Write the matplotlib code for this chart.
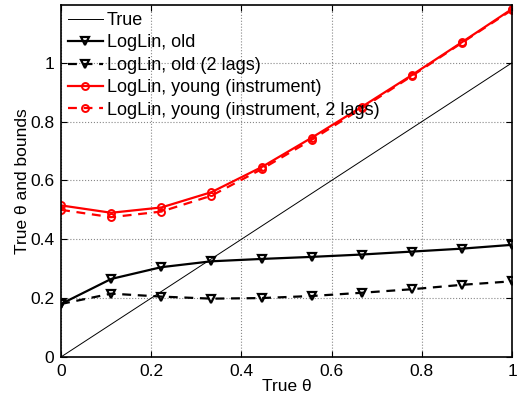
import matplotlib
matplotlib.use('Agg')
import matplotlib.pyplot as plt

plt.rcParams['font.family'] = ['Liberation Sans', 'DejaVu Sans']
plt.rcParams['font.size'] = 12.5

theta = [0, 1/9, 2/9, 3/9, 4/9, 5/9, 6/9, 7/9, 8/9, 1]
old = [0.180, 0.265, 0.305, 0.325, 0.333, 0.340, 0.348, 0.358, 0.368, 0.381]
old_2lags = [0.180, 0.215, 0.205, 0.198, 0.200, 0.207, 0.218, 0.230, 0.245, 0.257]
young = [0.515, 0.490, 0.508, 0.560, 0.645, 0.745, 0.850, 0.958, 1.070, 1.183]
young_2lags = [0.500, 0.475, 0.494, 0.548, 0.638, 0.738, 0.845, 0.955, 1.068, 1.180]

fig = plt.figure(figsize=(5.22, 4.01), dpi=100)
ax = fig.add_axes([0.117, 0.110, 0.864, 0.878])

ax.plot([0, 1], [0, 1], color='black', lw=0.7, label='True')
ax.plot(theta, old, color='black', lw=1.6, marker='v', ms=6, mfc='none', mew=1.6,
        label='LogLin, old')
ax.plot(theta, old_2lags, color='black', lw=1.6, ls='--', dashes=(4, 3), marker='v', ms=6,
        mfc='none', mew=1.6, label='LogLin, old (2 lags)')
ax.plot(theta, young, color='red', lw=1.6, marker='o', ms=5, mfc='none', mew=1.4,
        label='LogLin, young (instrument)')
ax.plot(theta, young_2lags, color='red', lw=1.6, ls='--', dashes=(4, 3), marker='o', ms=5,
        mfc='none', mew=1.4, label='LogLin, young (instrument, 2 lags)')

ax.set_xlim(0, 1)
ax.set_ylim(0, 1.197)
ax.set_xticks([0, 0.2, 0.4, 0.6, 0.8, 1])
ax.set_xticklabels(['0', '0.2', '0.4', '0.6', '0.8', '1'])
ax.set_yticks([0, 0.2, 0.4, 0.6, 0.8, 1])
ax.set_yticklabels(['0', '0.2', '0.4', '0.6', '0.8', '1'])
ax.grid(True, ls=':', color='#888888', lw=0.8)
ax.tick_params(direction='in', length=4, top=True, right=True, labelsize=12.5, pad=5)
for s in ax.spines.values():
    s.set_linewidth(1.2)
ax.set_xlabel('True \u03b8', labelpad=0)
ax.set_ylabel('True \u03b8 and bounds', labelpad=0)

ax.legend(loc='upper left', frameon=False,
          handlelength=1.9, handletextpad=0.25, labelspacing=0.3, borderaxespad=0.0,
          borderpad=0.4, fontsize=13)

fig.savefig('out.png', dpi=100)
